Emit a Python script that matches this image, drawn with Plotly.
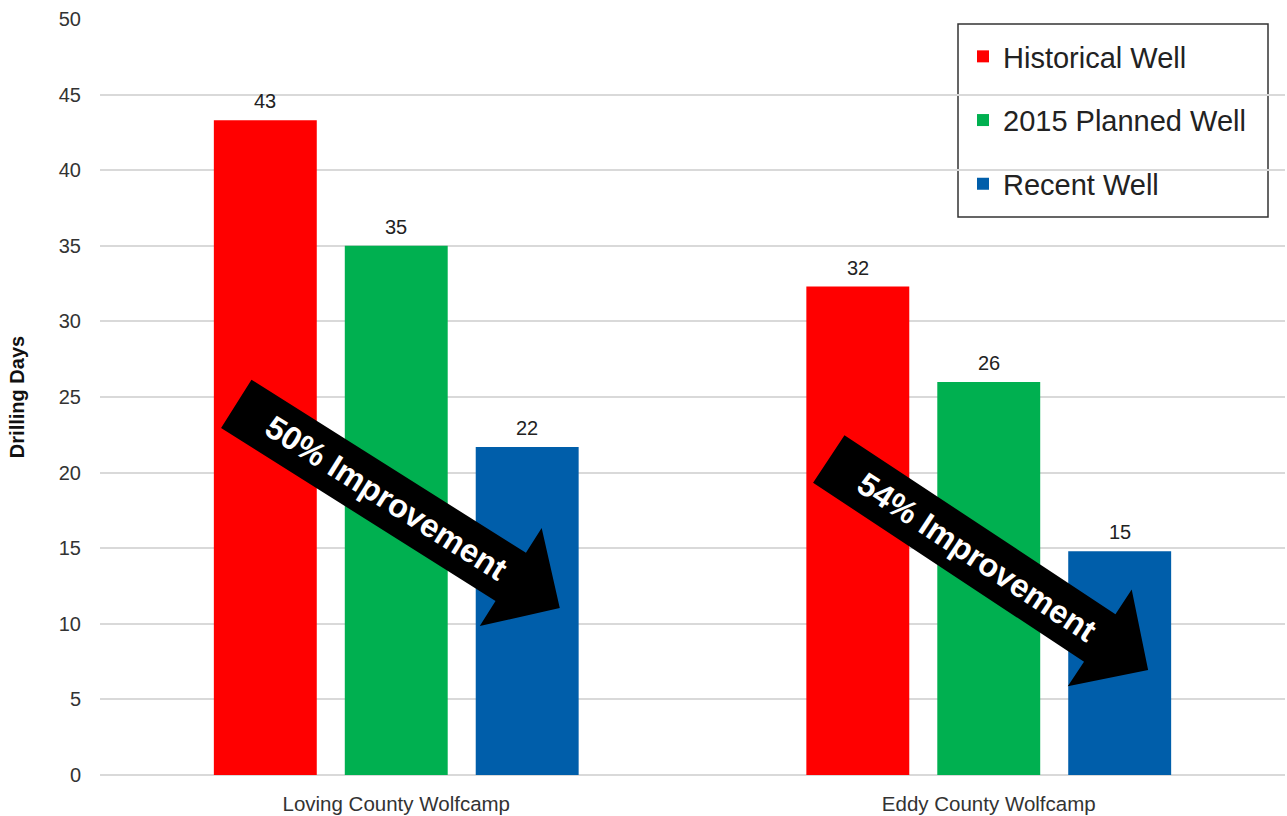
import math
import plotly.graph_objects as go

categories = ["Loving County Wolfcamp", "Eddy County Wolfcamp"]
series_names = ["Historical Well", "2015 Planned Well", "Recent Well"]
historical = [43.3, 32.3]
planned = [35.0, 26.0]
recent = [21.7, 14.8]
label_historical = ["43", "32"]
label_planned = ["35", "26"]
label_recent = ["22", "15"]
colors = ["#FF0000", "#00B050", "#005EAA"]
y_ticks = [0, 5, 10, 15, 20, 25, 30, 35, 40, 45, 50]

arrow_texts = ["50% Improvement", "54% Improvement"]
arrow_tails = [(-0.27, 24.55), (0.73, 20.9)]   # (category index, days)
arrow_tips = [(0.276, 11.05), (1.269, 6.95)]

W, H = 1287, 816
ML, MR, MT, MB = 100, 2, 19, 41
PW, PH = W - ML - MR, H - MT - MB
XR = (-0.5, 1.5)
YR = (0, 50)
BARGAP, BARGROUPGAP = 0.337, 0.214

font_family = "Liberation Sans, Arial, Helvetica, sans-serif"

fig = go.Figure()
all_vals = [historical, planned, recent]
all_labels = [label_historical, label_planned, label_recent]
for name, vals, col in zip(series_names, all_vals, colors):
    fig.add_trace(go.Bar(
        x=categories, y=vals, name=name, marker=dict(color=col, line=dict(width=0)),
        legendgroup=name,
    ))

annotations = []
# value labels above each bar (positioned via the group slot width in pixels)
px_per_cat = PW / (XR[1] - XR[0])
slot_px = px_per_cat * (1 - BARGAP) / len(series_names)
for i, (vals, labs) in enumerate(zip(all_vals, all_labels)):
    for cat, v, lab in zip(categories, vals, labs):
        annotations.append(dict(
            x=cat, y=v, xref="x", yref="y", text=lab, showarrow=False,
            xshift=(i - (len(series_names) - 1) / 2) * slot_px, yshift=6,
            yanchor="bottom", xanchor="center",
            font=dict(size=20, color="#222222", family=font_family),
        ))


def to_px(x, y):
    px = (x - XR[0]) / (XR[1] - XR[0]) * PW
    py = (y - YR[0]) / (YR[1] - YR[0]) * PH
    return px, py


def to_paper(px, py):
    return px / PW, py / PH


shapes = []
SHAFT_HALF = 28.5
HEAD_HALF = 58
HEAD_LEN = 58
for txt, tail, tip in zip(arrow_texts, arrow_tails, arrow_tips):
    tx, ty = to_px(*tail)
    hx, hy = to_px(*tip)
    dx, dy = hx - tx, hy - ty
    L = math.hypot(dx, dy)
    ux, uy = dx / L, dy / L
    nx, ny = -uy, ux
    bx, by = hx - ux * HEAD_LEN, hy - uy * HEAD_LEN
    pts = [
        (tx + nx * SHAFT_HALF, ty + ny * SHAFT_HALF),
        (bx + nx * SHAFT_HALF, by + ny * SHAFT_HALF),
        (bx + nx * HEAD_HALF, by + ny * HEAD_HALF),
        (hx, hy),
        (bx - nx * HEAD_HALF, by - ny * HEAD_HALF),
        (bx - nx * SHAFT_HALF, by - ny * SHAFT_HALF),
        (tx - nx * SHAFT_HALF, ty - ny * SHAFT_HALF),
    ]
    path = "M " + " L ".join(f"{to_paper(*p)[0]:.5f},{to_paper(*p)[1]:.5f}" for p in pts) + " Z"
    shapes.append(dict(type="path", path=path, xref="paper", yref="paper",
                       fillcolor="black", line=dict(width=0), layer="above"))
    cx, cy = tx + ux * L * 0.463, ty + uy * L * 0.463
    ang = -math.degrees(math.atan2(dy, dx))
    annotations.append(dict(
        x=to_paper(cx, cy)[0], y=to_paper(cx, cy)[1], xref="paper", yref="paper",
        text=f"<b>{txt}</b>", showarrow=False, textangle=ang,
        font=dict(size=32.5, color="white", family=font_family),
        xanchor="center", yanchor="middle",
    ))

# legend frame (pixel box from the top-left of the page)
LEG_BOX = (958, 24, 1268, 217)
shapes.append(dict(
    type="rect", xref="paper", yref="paper", layer="below",
    x0=(LEG_BOX[0] - ML) / PW, x1=(LEG_BOX[2] - ML) / PW,
    y0=(H - MB - LEG_BOX[3]) / PH, y1=(H - MB - LEG_BOX[1]) / PH,
    fillcolor="white", line=dict(color="#333333", width=1.5),
))

fig.update_layout(
    width=W, height=H,
    margin=dict(l=ML, r=MR, t=MT, b=MB),
    paper_bgcolor="white", plot_bgcolor="white",
    barmode="group", bargap=BARGAP, bargroupgap=BARGROUPGAP,
    font=dict(family=font_family, color="#333333"),
    shapes=shapes, annotations=annotations,
    showlegend=True,
    legend=dict(
        x=(963 - ML) / PW, y=(H - MB - 31) / PH, xanchor="left", yanchor="top",
        bgcolor="rgba(0,0,0,0)", borderwidth=0,
        font=dict(size=29, color="#222222", family=font_family),
        tracegroupgap=23, traceorder="grouped",
    ),
    xaxis=dict(
        range=list(XR), showgrid=False, zeroline=False, showline=False,
        tickfont=dict(size=20.5, color="#333333"),
        ticks="outside", ticklen=10, tickcolor="rgba(0,0,0,0)",
    ),
    yaxis=dict(
        range=list(YR), tickvals=y_ticks, showgrid=True, gridcolor="#D9D9D9", gridwidth=1.5,
        zeroline=True, zerolinecolor="#D9D9D9", zerolinewidth=1.5, showline=False,
        tickfont=dict(size=20, color="#333333"),
        ticks="outside", ticklen=14, tickcolor="rgba(0,0,0,0)",
        title=dict(text="<b>Drilling Days</b>", font=dict(size=20, color="#111111"), standoff=28),
    ),
)

fig.write_html("out.html")
